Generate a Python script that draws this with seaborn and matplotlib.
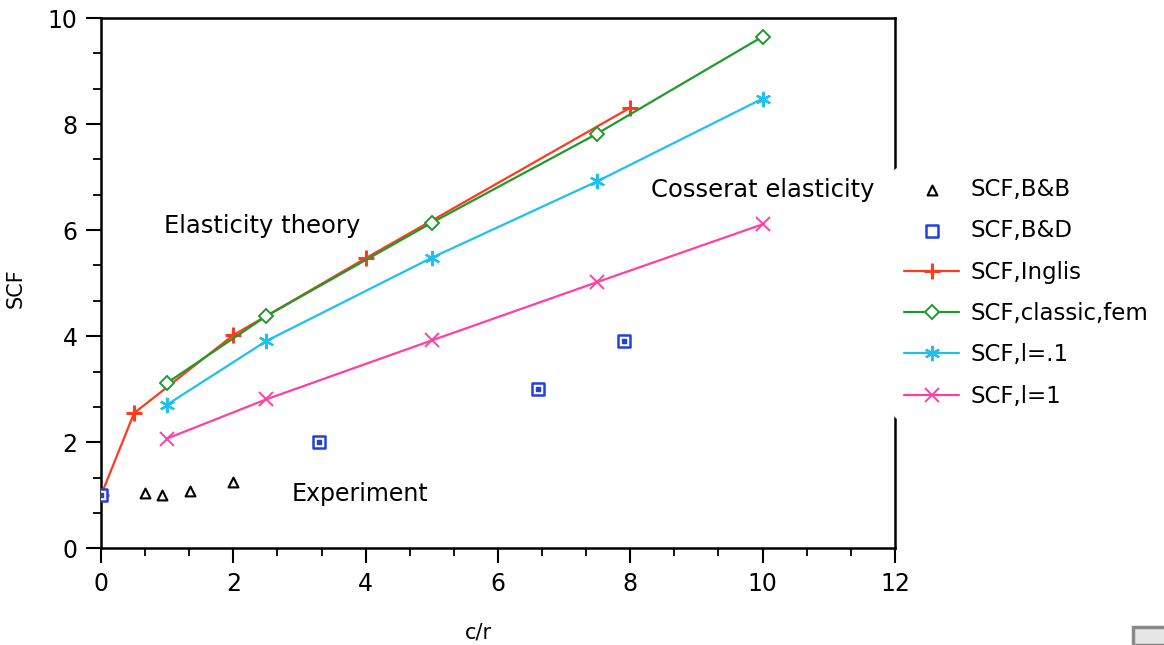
import matplotlib
matplotlib.use("Agg")
import matplotlib.pyplot as plt
import seaborn as sns
from matplotlib.ticker import MultipleLocator, AutoMinorLocator
from matplotlib.patches import Rectangle

# data
bb_x = [0.66, 0.92, 1.35, 2.0]
bb_y = [1.04, 1.0, 1.08, 1.25]

bd_x = [0.0, 3.3, 6.6, 7.9]
bd_y = [1.0, 2.0, 3.0, 3.91]

inglis_x = [0.0, 0.5, 2.0, 4.0, 8.0]
inglis_y = [1.0, 2.55, 4.02, 5.47, 8.31]

fem_x = [1.0, 2.5, 5.0, 7.5, 10.0]
fem_y = [3.12, 4.38, 6.14, 7.82, 9.65]

l01_x = [1.0, 2.5, 5.0, 7.5, 10.0]
l01_y = [2.71, 3.91, 5.48, 6.92, 8.48]

l1_x = [1.0, 2.5, 5.0, 7.5, 10.0]
l1_y = [2.07, 2.81, 3.92, 5.02, 6.11]

sns.set_theme(style="white")
plt.rcParams['font.family'] = ['DejaVu Sans']
plt.rcParams['text.color'] = 'black'
plt.rcParams['axes.labelcolor'] = 'black'
plt.rcParams['xtick.color'] = 'black'
plt.rcParams['ytick.color'] = 'black'

fig = plt.figure(figsize=(11.64, 6.45), dpi=100)
ax = fig.add_axes([0.0868, 0.150, 0.682, 0.822])

red = "#ff3b1f"
green = "#1f9a2c"
cyan = "#1ec0f0"
pink = "#ff40a0"
blue = "#2040e0"

# lines with markers
sns.lineplot(x=inglis_x, y=inglis_y, ax=ax, color=red, lw=1.6, marker="+",
             markersize=12, markeredgewidth=2.2, markeredgecolor=red,
             label="SCF,Inglis", sort=False)
sns.lineplot(x=fem_x, y=fem_y, ax=ax, color=green, lw=1.6, marker="D",
             markersize=7, markerfacecolor="white", markeredgecolor=green,
             markeredgewidth=1.4, label="SCF,classic,fem", sort=False)
sns.lineplot(x=l01_x, y=l01_y, ax=ax, color=cyan, lw=1.6, marker=(6, 2, 0),
             markersize=11, markeredgewidth=1.6, markeredgecolor=cyan,
             label="SCF,l=.1", sort=False)
sns.lineplot(x=l1_x, y=l1_y, ax=ax, color=pink, lw=1.6, marker="x",
             markersize=10, markeredgewidth=1.4, markeredgecolor=pink,
             label="SCF,l=1", sort=False)

# experimental points
ax.scatter(bb_x, bb_y, marker="^", s=50, facecolors="white",
           edgecolors="black", linewidths=1.5, zorder=4, label="SCF,B&B")
ax.scatter(bd_x, bd_y, marker="s", s=75, facecolors="white",
           edgecolors=blue, linewidths=1.8, zorder=4, label="SCF,B&D")
ax.scatter(bd_x, bd_y, marker="s", s=6, color=blue, zorder=5)

ax.set_xlim(0, 12)
ax.set_ylim(0, 10)
ax.xaxis.set_major_locator(MultipleLocator(2))
ax.yaxis.set_major_locator(MultipleLocator(2))
ax.xaxis.set_minor_locator(AutoMinorLocator(3))
ax.yaxis.set_minor_locator(AutoMinorLocator(3))
ax.tick_params(which="major", direction="out", length=11, width=1.5,
               labelsize=17, bottom=True, left=True, pad=6)
ax.tick_params(which="minor", direction="out", length=6, width=1.3,
               bottom=True, left=True)
for s in ax.spines.values():
    s.set_color("black")
    s.set_linewidth(1.8)

ax.set_xlabel("c/r", fontsize=15)
ax.set_ylabel("SCF", fontsize=15)
ax.xaxis.set_label_coords(0.475, -0.14)
ax.yaxis.set_label_coords(-0.095, 0.49)

ax.text(2.43, 6.08, "Elasticity theory", fontsize=17.5, ha="center", va="center")
ax.text(10.0, 6.75, "Cosserat elasticity", fontsize=17.5, ha="center", va="center")
ax.text(3.91, 1.02, "Experiment", fontsize=17, ha="center", va="center")

handles, labels = ax.get_legend_handles_labels()
order = ["SCF,B&B", "SCF,B&D", "SCF,Inglis", "SCF,classic,fem", "SCF,l=.1", "SCF,l=1"]
hmap = dict(zip(labels, handles))
leg = ax.legend([hmap[k] for k in order], order, loc="upper left",
                bbox_to_anchor=(0.768, 0.74), bbox_transform=fig.transFigure,
                frameon=True, fontsize=16.5, handlelength=2.4, labelspacing=0.8,
                borderpad=0.45, handletextpad=0.5, borderaxespad=0)
leg.get_frame().set_facecolor("white")
leg.get_frame().set_edgecolor("white")
leg.get_frame().set_alpha(1.0)
leg.set_zorder(10)

# small grey window box in the corner
fig.patches.append(Rectangle((1133 / 1164, 0), 0.03, 18 / 645,
                             transform=fig.transFigure, facecolor="#e6e6e6",
                             edgecolor="#8a8a8a", linewidth=2.5))

fig.savefig("out.png", dpi=100)
